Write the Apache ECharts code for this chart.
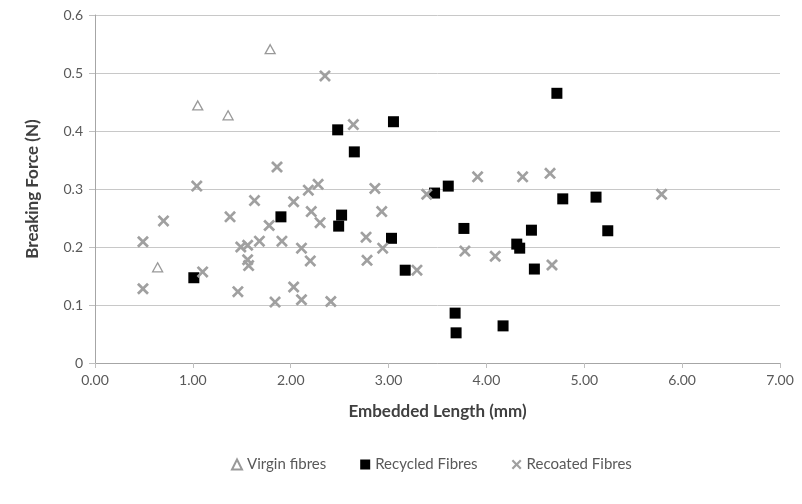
<!DOCTYPE html>
<html>
<head>
<meta charset="utf-8">
<script src="https://cdn.jsdelivr.net/npm/echarts@6/dist/echarts.min.js"></script>
<style>
  html, body { margin: 0; padding: 0; background: #fff; }
  #chart { width: 802px; height: 504px; }
</style>
</head>
<body>
<div id="chart"></div>
<script>
// embedded length (mm) / breaking force (N)
const virginX = [1.79, 1.05, 1.36, 0.64];
const virginY = [0.541, 0.444, 0.427, 0.165];

const recycledX = [1.01, 1.90, 2.48, 2.65, 3.05, 2.52, 2.49, 3.03, 3.17, 3.47, 3.61, 3.77,
  3.68, 3.69, 4.17, 4.31, 4.34, 4.46, 4.49, 4.72, 4.78, 5.12, 5.24];
const recycledY = [0.147, 0.252, 0.402, 0.364, 0.416, 0.255, 0.236, 0.215, 0.160, 0.293, 0.305, 0.232,
  0.086, 0.052, 0.064, 0.205, 0.198, 0.229, 0.162, 0.465, 0.283, 0.286, 0.228];

const recoatedX = [0.49, 0.49, 0.70, 1.04, 1.10, 1.38, 1.46, 1.49, 1.56, 1.56, 1.57, 1.68,
  1.63, 1.78, 1.86, 1.84, 1.91, 2.03, 2.03, 2.11, 2.11, 2.18, 2.28, 2.21, 2.30, 2.20,
  2.35, 2.41, 2.64, 2.86, 2.93, 2.77, 2.94, 2.78, 3.29, 3.39, 3.91, 4.37, 4.65, 3.78,
  4.09, 4.67, 5.79];
const recoatedY = [0.209, 0.128, 0.245, 0.305, 0.157, 0.252, 0.123, 0.200, 0.203, 0.178, 0.168, 0.210,
  0.280, 0.237, 0.338, 0.105, 0.210, 0.278, 0.131, 0.198, 0.109, 0.298, 0.308, 0.261, 0.242, 0.176,
  0.495, 0.106, 0.411, 0.301, 0.261, 0.217, 0.198, 0.177, 0.160, 0.291, 0.321, 0.321, 0.327, 0.193,
  0.184, 0.169, 0.291];

const seriesNames = ['Virgin fibres', 'Recycled Fibres', 'Recoated Fibres'];

function pairs(xs, ys) {
  return xs.map((x, i) => [x, ys[i]]);
}

// X mark drawn as a filled cross
const crossPath = 'path://M0,1.6L1.6,0L5,3.4L8.4,0L10,1.6L6.6,5L10,8.4L8.4,10L5,6.6L1.6,10L0,8.4L3.4,5Z';

let myChart = echarts.init(document.getElementById('chart'));
const font = 'Lato, "Liberation Sans", sans-serif';

myChart.setOption({
  backgroundColor: '#fff',
  animation: false,
  textStyle: { fontFamily: font },
  grid: { left: 95, right: 22, top: 15, bottom: 141 },
  legend: {
    bottom: 27,
    left: 226,
    itemWidth: 10,
    itemHeight: 10,
    itemGap: 34,
    textStyle: { color: '#595959', fontSize: 15, fontFamily: font },
    data: seriesNames
  },
  xAxis: {
    type: 'value',
    min: 0,
    max: 7,
    interval: 1,
    name: 'Embedded Length (mm)',
    nameLocation: 'middle',
    nameGap: 40,
    nameTextStyle: { color: '#404040', fontSize: 17, fontWeight: 'bold' },
    axisLine: { show: true, lineStyle: { color: '#a6a6a6', width: 1 } },
    axisTick: { show: true, inside: false, length: 5, lineStyle: { color: '#bfbfbf' } },
    axisLabel: { color: '#595959', fontSize: 14, margin: 10, formatter: v => v.toFixed(2) },
    splitLine: { show: false }
  },
  yAxis: {
    type: 'value',
    min: 0,
    max: 0.6,
    interval: 0.1,
    name: 'Breaking Force (N)',
    nameLocation: 'middle',
    nameGap: 54,
    nameTextStyle: { color: '#404040', fontSize: 17, fontWeight: 'bold' },
    axisLine: { show: true, lineStyle: { color: '#a6a6a6', width: 1 } },
    axisTick: { show: true, inside: false, length: 6, lineStyle: { color: '#bfbfbf' } },
    axisLabel: { color: '#595959', fontSize: 14, margin: 12,
      formatter: v => (v === 0 ? '0' : v.toFixed(1)) },
    splitLine: { show: true, lineStyle: { color: '#c8c8c8', width: 1 } }
  },
  series: [{
    name: seriesNames[0],
    type: 'scatter',
    symbol: 'triangle',
    symbolSize: [10, 9],
    itemStyle: { color: '#fff', borderColor: '#7f7f7f', borderWidth: 1.3 },
    data: pairs(virginX, virginY)
  }, {
    name: seriesNames[1],
    type: 'scatter',
    symbol: 'rect',
    symbolSize: 11,
    itemStyle: { color: '#000', opacity: 1 },
    data: pairs(recycledX, recycledY)
  }, {
    name: seriesNames[2],
    type: 'scatter',
    symbol: crossPath,
    symbolSize: 12,
    itemStyle: { color: '#a0a0a0', opacity: 1 },
    data: pairs(recoatedX, recoatedY)
  }]
});
</script>
</body>
</html>
